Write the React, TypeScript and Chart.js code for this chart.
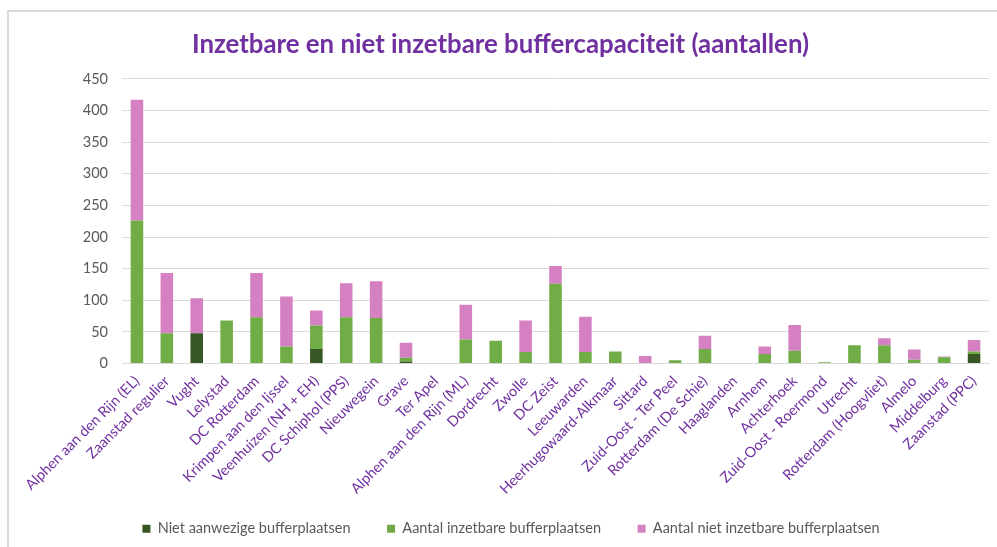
import React, { useEffect, useRef } from "react";
import { Chart, registerables } from "chart.js";

Chart.register(...registerables);

const categories = [
  "Alphen aan den Rijn (EL)",
  "Zaanstad regulier",
  "Vught",
  "Lelystad",
  "DC Rotterdam",
  "Krimpen aan den Ijssel",
  "Veenhuizen (NH + EH)",
  "DC Schiphol (PPS)",
  "Nieuwegein",
  "Grave",
  "Ter Apel",
  "Alphen aan den Rijn (ML)",
  "Dordrecht",
  "Zwolle",
  "DC Zeist",
  "Leeuwarden",
  "Heerhugowaard-Alkmaar",
  "Sittard",
  "Zuid-Oost - Ter Peel",
  "Rotterdam (De Schie)",
  "Haaglanden",
  "Arnhem",
  "Achterhoek",
  "Zuid-Oost - Roermond",
  "Utrecht",
  "Rotterdam (Hoogvliet)",
  "Almelo",
  "Middelburg",
  "Zaanstad (PPC)",
];

const seriesLabels = [
  "Niet aanwezige bufferplaatsen",
  "Aantal inzetbare bufferplaatsen",
  "Aantal niet inzetbare bufferplaatsen",
];

const nietAanwezig = [0, 0, 48, 0, 0, 0, 23, 0, 0, 3, 0, 0, 0, 0, 0, 0, 0, 0, 0, 0, 0, 0, 0, 0, 0, 0, 0, 0, 15];
const inzetbaar = [226, 48, 0, 68, 73, 27, 37, 73, 72, 6, 0, 38, 36, 18, 126, 18, 19, 0, 5, 23, 0, 15, 20, 2, 29, 29, 6, 10, 4];
const nietInzetbaar = [191, 95, 55, 0, 70, 79, 24, 54, 58, 24, 0, 55, 0, 50, 28, 56, 0, 12, 0, 21, 0, 12, 41, 0, 0, 11, 16, 1, 18];

const yTicks = [0, 50, 100, 150, 200, 250, 300, 350, 400, 450];

const FONT = "Lato, 'Open Sans', sans-serif";
const GAP = "\u2003\u2003\u2004";

const legendShift = {
  id: "legendShift",
  afterLayout(chart: any) {
    if (chart.legend) chart.legend.left += 21;
  },
};

export default function App() {
  const ref = useRef<HTMLCanvasElement | null>(null);
  useEffect(() => {
    if (!ref.current) return;
    const chart = new Chart(ref.current, {
      type: "bar",
      data: {
        labels: categories,
        datasets: [
          { label: seriesLabels[0], data: nietAanwezig, backgroundColor: "#375623" },
          { label: seriesLabels[1], data: inzetbaar, backgroundColor: "#70AD47" },
          { label: seriesLabels[2], data: nietInzetbaar, backgroundColor: "#D580C2" },
        ],
      },
      plugins: [legendShift],
      options: {
        animation: false,
        responsive: false,
        devicePixelRatio: 1,
        datasets: { bar: { barPercentage: 0.42, categoryPercentage: 1 } },
        layout: { padding: { left: 12, right: 8, top: 0, bottom: 1 } },
        plugins: {
          title: {
            display: true,
            text: "Inzetbare en niet inzetbare buffercapaciteit (aantallen)",
            color: "#7030A0",
            font: { family: FONT, size: 25.8, weight: "bold" },
            padding: { top: 29, bottom: 19 },
          },
          legend: {
            position: "bottom",
            labels: {
              boxWidth: 8,
              boxHeight: 8,
              padding: 10,
              color: "#595959",
              font: { family: FONT, size: 14.5 },
              generateLabels: (c: any) => {
                const items = Chart.defaults.plugins.legend.labels.generateLabels(c);
                return items.map((it: any, i: number) => ({
                  ...it,
                  text: i < items.length - 1 ? it.text + GAP : it.text,
                  lineWidth: 0,
                }));
              },
            },
          },
          tooltip: { enabled: false },
        },
        scales: {
          x: {
            stacked: true,
            grid: { display: false, drawTicks: false },
            border: { display: true, color: "#D9D9D9", width: 1 },
            ticks: {
              color: "#7030A0",
              font: { family: FONT, size: 14.5 },
              minRotation: 45,
              maxRotation: 45,
              autoSkip: false,
              padding: 9,
            },
            afterFit: (s: any) => {
              s.height = 148;
            },
          },
          y: {
            stacked: true,
            min: 0,
            max: 450,
            afterBuildTicks: (s: any) => {
              s.ticks = yTicks.map((v) => ({ value: v }));
            },
            grid: { color: "#D9D9D9", drawTicks: false },
            border: { display: false },
            ticks: {
              color: "#595959",
              font: { family: FONT, size: 14.5 },
              padding: 14,
            },
            afterFit: (s: any) => {
              s.width = 110;
            },
          },
        },
      },
    });
    return () => chart.destroy();
  }, []);
  return (
    <div style={{ position: "fixed", left: 0, top: 0, width: 997, height: 547, overflow: "hidden", background: "#fff" }}>
      <div
        style={{
          position: "absolute",
          left: 7,
          top: 10,
          width: 1000,
          height: 600,
          borderLeft: "2px solid #D9D9D9",
          borderTop: "2px solid #D9D9D9",
        }}
      />
      <canvas ref={ref} width={997} height={547} style={{ position: "absolute", left: 0, top: 0 }} />
    </div>
  );
}
